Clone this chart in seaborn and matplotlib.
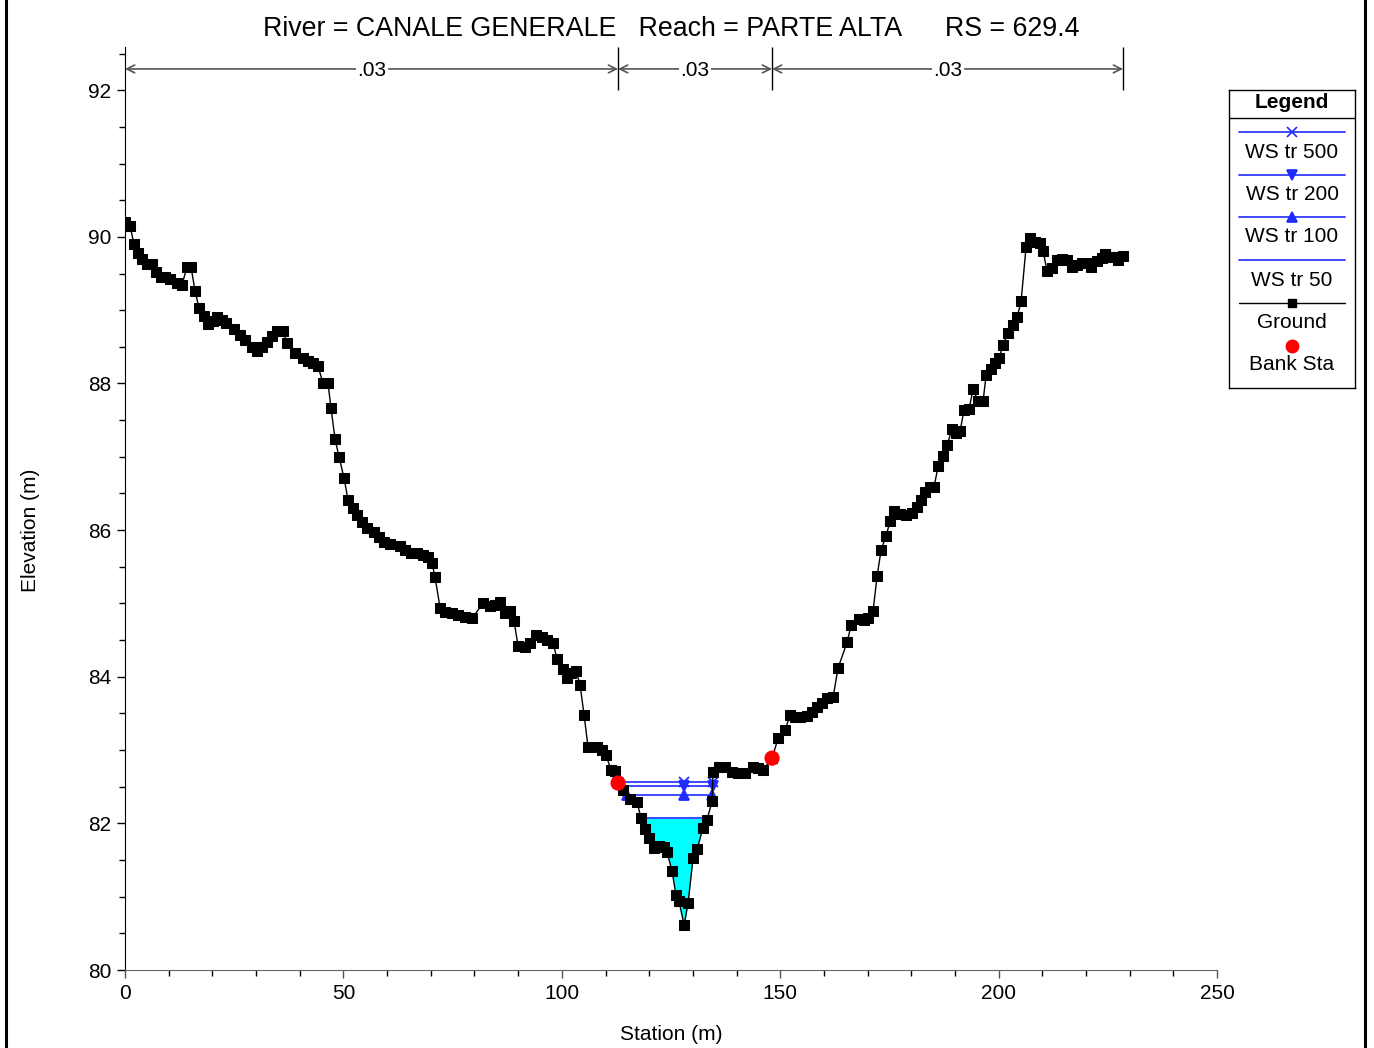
import numpy as np
import pandas as pd
import matplotlib.pyplot as plt
import seaborn as sns
from matplotlib.ticker import MultipleLocator
from matplotlib.lines import Line2D

# ground profile
station = [
    0.00, 1.14, 2.06, 2.98, 3.89, 5.04, 6.18, 7.10, 8.24, 9.16, 10.30, 11.90, 13.05,
    14.19, 15.11, 16.03, 16.94, 18.09, 19.00, 20.15, 21.06, 22.21, 23.12, 24.95, 26.33,
    27.47, 29.08, 30.22, 31.36, 32.51, 33.65, 34.80, 36.17, 37.09, 38.92, 40.75, 41.90,
    43.04, 44.18, 45.33, 46.47, 47.16, 48.08, 48.99, 50.14, 51.05, 52.20, 53.11, 54.26,
    55.40, 57.01, 58.15, 59.29, 60.67, 62.96, 64.10, 65.48, 66.85, 68.22, 69.37, 70.28,
    70.97, 72.12, 73.26, 74.86, 76.24, 77.84, 79.44, 81.96, 83.56, 84.71, 85.85, 87.00,
    88.14, 89.06, 89.97, 91.58, 92.72, 94.09, 95.47, 96.61, 97.99, 98.90, 100.27, 101.19,
    102.11, 103.25, 104.17, 105.08, 106.00, 108.06, 109.20, 110.12, 111.26, 112.18, 112.87,
    114.01, 115.61, 117.22, 118.13, 119.05, 119.96, 121.11, 122.25, 123.40, 124.08, 125.23,
    126.14, 126.83, 127.98, 128.89, 130.04, 130.95, 132.33, 133.24, 134.39, 134.62, 135.99,
    137.36, 138.97, 140.34, 141.94, 143.77, 144.92, 146.06, 148.12, 149.50, 151.10, 152.24,
    153.39, 154.53, 156.14, 157.28, 158.42, 159.57, 160.71, 162.09, 163.23, 165.29, 166.21,
    168.04, 169.18, 170.10, 171.25, 172.16, 173.08, 174.22, 175.14, 176.05, 177.43, 178.80,
    180.17, 181.32, 182.23, 183.15, 184.30, 185.21, 186.13, 187.27, 188.19, 189.33, 190.25,
    191.16, 192.08, 193.22, 194.14, 195.28, 196.43, 197.12, 198.26, 199.18, 200.09, 201.01,
    202.15, 203.30, 204.21, 205.13, 206.27, 207.19, 208.33, 209.48, 210.16, 211.08, 212.23,
    213.37, 214.51, 215.66, 216.80, 217.95, 219.09, 220.24, 221.15, 222.53, 223.67, 224.36,
    225.50, 226.42, 227.34, 228.48,
]
elevation = [
    90.20, 90.15, 89.90, 89.78, 89.70, 89.63, 89.63, 89.52, 89.45, 89.45, 89.42, 89.37, 89.35,
    89.59, 89.59, 89.26, 89.03, 88.92, 88.81, 88.85, 88.90, 88.86, 88.82, 88.74, 88.66,
    88.59, 88.50, 88.44, 88.50, 88.56, 88.65, 88.71, 88.71, 88.55, 88.41, 88.35, 88.30,
    88.28, 88.24, 88.00, 88.00, 87.66, 87.24, 87.00, 86.71, 86.41, 86.30, 86.20, 86.11,
    86.03, 85.97, 85.90, 85.84, 85.81, 85.78, 85.73, 85.69, 85.69, 85.66, 85.63, 85.55,
    85.36, 84.94, 84.88, 84.87, 84.84, 84.81, 84.80, 85.00, 84.96, 84.98, 85.02, 84.87,
    84.90, 84.76, 84.42, 84.40, 84.46, 84.57, 84.54, 84.50, 84.46, 84.24, 84.10, 83.98,
    84.05, 84.08, 83.89, 83.48, 83.04, 83.04, 83.00, 82.93, 82.73, 82.71, 82.55,
    82.45, 82.33, 82.29, 82.07, 81.92, 81.80, 81.66, 81.69, 81.68, 81.61, 81.35,
    81.02, 80.94, 80.61, 80.91, 81.53, 81.65, 81.94, 82.05, 82.30, 82.70, 82.77,
    82.77, 82.70, 82.69, 82.69, 82.77, 82.75, 82.73, 82.89, 83.16, 83.27, 83.48,
    83.45, 83.45, 83.46, 83.52, 83.59, 83.64, 83.71, 83.72, 84.12, 84.47, 84.70,
    84.79, 84.77, 84.80, 84.90, 85.37, 85.73, 85.92, 86.12, 86.26, 86.22, 86.20,
    86.23, 86.31, 86.41, 86.52, 86.59, 86.59, 86.87, 87.01, 87.16, 87.38, 87.32,
    87.35, 87.64, 87.65, 87.92, 87.76, 87.76, 88.11, 88.20, 88.28, 88.35, 88.52,
    88.69, 88.80, 88.90, 89.12, 89.86, 89.98, 89.93, 89.91, 89.81, 89.53, 89.57,
    89.68, 89.70, 89.68, 89.59, 89.61, 89.64, 89.64, 89.59, 89.67, 89.71, 89.76,
    89.72, 89.72, 89.68, 89.74,
]

bank_sta = [112.87, 148.12]

ws_names = ["WS tr 500", "WS tr 200", "WS tr 100", "WS tr 50"]
ws_elev = [82.57, 82.51, 82.39, 82.07]
ws_markers = ["x", "v", "^", None]

n_values = [".03", ".03", ".03"]
n_breaks = [0.0, 112.87, 148.12, 228.48]

title = "River = CANALE GENERALE   Reach = PARTE ALTA      RS = 629.4"

sns.set_style("ticks")
plt.rcParams["font.family"] = ["Liberation Sans", "DejaVu Sans"]
plt.rcParams["text.color"] = "black"
plt.rcParams["axes.labelcolor"] = "black"
plt.rcParams["xtick.color"] = "black"
plt.rcParams["ytick.color"] = "black"

df = pd.DataFrame({"station": station, "elevation": elevation})
sta = np.array(station)
elev = np.array(elevation)
thalweg = int(np.argmin(elev))


def ws_extent(ws):
    # walk out from the thalweg until the ground rises above the water
    i = thalweg
    while elev[i - 1] < ws:
        i -= 1
    xl = np.interp(ws, [elev[i], elev[i - 1]], [sta[i], sta[i - 1]])
    j = thalweg
    while elev[j + 1] < ws:
        j += 1
    xr = np.interp(ws, [elev[j], elev[j + 1]], [sta[j], sta[j + 1]])
    return xl, xr, i, j


fig = plt.figure(figsize=(13.74, 10.48), dpi=100)
ax = fig.add_axes([0.0910, 0.0744, 0.7948, 0.8808])

blue = "#1f2bff"
fs = 15

# WS tr 50 filled
xl, xr, i, j = ws_extent(ws_elev[3])
fx = np.concatenate([[xl], sta[i:j + 1], [xr]])
fy = np.concatenate([[ws_elev[3]], elev[i:j + 1], [ws_elev[3]]])
ax.fill_between(fx, fy, ws_elev[3], color="#00ffff", linewidth=0, zorder=1)

for name, ws, m in zip(ws_names, ws_elev, ws_markers):
    xl, xr, _, _ = ws_extent(ws)
    xs = [xl, sta[thalweg], xr]
    kw = dict(color=blue, linewidth=1.2, ax=ax, zorder=2)
    if m is not None:
        kw.update(marker=m, markersize=7, markeredgecolor=blue, markerfacecolor=blue,
                  markeredgewidth=1.3)
    sns.lineplot(x=xs, y=[ws] * 3, sort=False, estimator=None, **kw)

sns.lineplot(data=df, x="station", y="elevation", sort=False, estimator=None,
             color="black", linewidth=1.0, marker="s", markersize=6.5,
             markeredgecolor="black", markerfacecolor="black", ax=ax, zorder=3)

sns.scatterplot(x=bank_sta, y=np.interp(bank_sta, sta, elev), color="red", s=120,
                edgecolor="none", ax=ax, zorder=4)

ax.set_xlim(0, 250)
ax.set_ylim(80, 92.59)
ax.xaxis.set_major_locator(MultipleLocator(50))
ax.xaxis.set_minor_locator(MultipleLocator(10))
ax.yaxis.set_minor_locator(MultipleLocator(0.5))
ax.set_yticks(np.arange(80, 93, 2))
ax.tick_params(which="major", length=6, width=1, labelsize=fs, direction="out", pad=4)
ax.tick_params(which="minor", length=4, width=1, direction="out")
ax.tick_params(axis="x", colors="#555555", labelcolor="black")
sns.despine(ax=ax)
ax.spines["left"].set_color("black")
ax.spines["bottom"].set_color("#666666")
ax.set_xlabel("")
ax.set_ylabel("")
fig.text(671 / 1374, 1 - 1034 / 1048, "Station (m)", ha="center", va="center", fontsize=fs)
fig.text(30 / 1374, 1 - 530 / 1048, "Elevation (m)", ha="center", va="center",
         rotation=90, fontsize=fs)

# Manning's n bands
n_y = 92.29
ax.vlines(n_breaks[1:], 92.0, 92.59, color="black", linewidth=1, clip_on=False)
for k, nv in enumerate(n_values):
    a, b = n_breaks[k], n_breaks[k + 1]
    ax.annotate("", xy=(b, n_y), xytext=(a, n_y),
                arrowprops=dict(arrowstyle="<->", color="#555555", lw=1.2,
                                shrinkA=0, shrinkB=0, mutation_scale=14))
    ax.text((a + b) / 2, n_y, nv, ha="center", va="center_baseline", fontsize=fs,
            bbox=dict(facecolor="white", edgecolor="none", pad=1))

fig.text(671 / 1374, 1 - 29 / 1048, title, ha="center", va="center", fontsize=19.3)

# legend box drawn in pixel units
lg = fig.add_axes([1229 / 1374, 1 - 388 / 1048, 126 / 1374, 298 / 1048])
lg.set_xlim(1229, 1355)
lg.set_ylim(388, 90)
lg.set_xticks([])
lg.set_yticks([])
for s in lg.spines.values():
    s.set_visible(True)
    s.set_color("black")
    s.set_linewidth(1)
lg.text(1292, 103, "Legend", ha="center", va="center", fontsize=fs, fontweight="bold")
lg.plot([1229, 1355], [118, 118], color="black", linewidth=1)
rows = [132, 175, 217, 260]
for y0, name, m in zip(rows, ws_names, ws_markers):
    lg.plot([1239, 1345], [y0, y0], color=blue, linewidth=1.2)
    if m is not None:
        lg.plot([1292], [y0], marker=m, color=blue, markersize=6.5, markeredgewidth=1.2)
    lg.text(1292, y0 + 20, name, ha="center", va="center", fontsize=fs)
lg.plot([1239, 1345], [303, 303], color="black", linewidth=1)
lg.plot([1292], [303], marker="s", color="black", markersize=6)
lg.text(1292, 323, "Ground", ha="center", va="center", fontsize=fs)
lg.plot([1292], [346], marker="o", color="red", markersize=10, markeredgewidth=0)
lg.text(1292, 365, "Bank Sta", ha="center", va="center", fontsize=fs)

# outer frame edges
fig.add_artist(Line2D([6 / 1374, 6 / 1374], [0, 1], color="black", linewidth=2.2))
fig.add_artist(Line2D([1365 / 1374, 1365 / 1374], [0, 1], color="black", linewidth=2.2))

fig.savefig("out.png", dpi=100)
